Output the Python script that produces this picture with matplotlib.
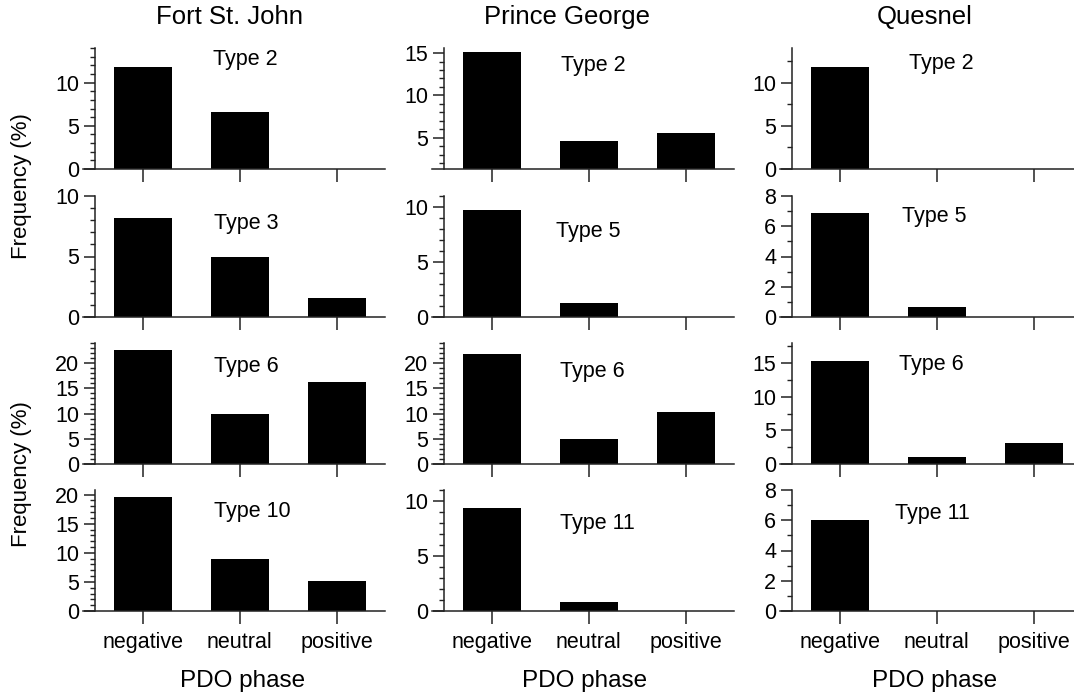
import matplotlib.pyplot as plt
from matplotlib.ticker import MultipleLocator

plt.rcParams['font.family'] = ['Liberation Sans', 'DejaVu Sans']

# Data
stations = ["Fort St. John", "Prince George", "Quesnel"]
phases = ["negative", "neutral", "positive"]

fsj_types = ["Type 2", "Type 3", "Type 6", "Type 10"]
fsj_values = [[11.8, 6.6, 0.0],
              [8.2, 5.0, 1.55],
              [22.6, 10.0, 16.2],
              [19.6, 9.0, 5.2]]

pg_types = ["Type 2", "Type 5", "Type 6", "Type 11"]
pg_values = [[15.1, 4.6, 5.5],
             [9.7, 1.25, 0.0],
             [21.8, 5.0, 10.4],
             [9.4, 0.8, 0.0]]

q_types = ["Type 2", "Type 5", "Type 6", "Type 11"]
q_values = [[11.8, 0.0, 0.0],
            [6.85, 0.65, 0.0],
            [15.3, 1.05, 3.1],
            [6.0, 0.0, 0.0]]

# axis settings per column: (ymin, ymax, major, minor)
fsj_axes = [(0, 14, 5, 1), (0, 10, 5, 1), (0, 24, 5, 1), (0, 20.8, 5, 1)]
pg_axes = [(1.3, 15.6, 5, 1), (0, 11, 5, 1), (0, 24, 5, 1), (0, 11, 5, 1)]
q_axes = [(0, 14, 5, 2.5), (0, 8, 2, 1), (0, 18, 5, 2.5), (0, 8, 2, 1)]

# label positions in pixels (x, y) for the "Type" texts
fsj_lab = [(245, 59), (246, 223), (246, 367), (252, 512)]
pg_lab = [(593, 65), (588, 232), (592, 371), (597, 523)]
q_lab = [(941, 63), (934, 217), (931, 365), (932, 513)]

columns = [
    (fsj_types, fsj_values, fsj_axes, fsj_lab),
    (pg_types, pg_values, pg_axes, pg_lab),
    (q_types, q_values, q_axes, q_lab),
]

W, H = 1074, 698
fig = plt.figure(figsize=(W / 100, H / 100), dpi=100)

col_left = [83, 432, 780]
row_top = [48, 196, 343, 490]
ax_w, ax_h = 302, 121

x = [0, 1, 2]
for c, (types, values, axset, labs) in enumerate(columns):
    for r in range(4):
        ax = fig.add_axes([col_left[c] / W, 1 - (row_top[r] + ax_h) / H,
                           ax_w / W, ax_h / H])
        ax.bar(x, values[r], width=0.6, color='black')
        ymin, ymax, maj, mnr = axset[r]
        ax.set_ylim(ymin, ymax)
        ax.set_xlim(-0.62, 2.5)
        ax.yaxis.set_major_locator(MultipleLocator(maj))
        ax.yaxis.set_minor_locator(MultipleLocator(mnr))
        ax.spines['top'].set_visible(False)
        ax.spines['right'].set_visible(False)
        ax.spines['left'].set_position(('data', -0.5))
        for s in ['left', 'bottom']:
            ax.spines[s].set_linewidth(1.1)
            ax.spines[s].set_color('#222222')
        ax.set_xticks(x)
        ax.tick_params(axis='both', which='major', length=8, width=1.1,
                       color='#222222', labelsize=15.5, pad=3)
        ax.tick_params(axis='y', which='minor', length=3.5, width=1.0,
                       color='#222222')
        ax.tick_params(axis='x', which='major', length=9, pad=6)
        if r == 3:
            ax.set_xticklabels(phases)
        else:
            ax.set_xticklabels([])
        lx, ly = labs[r]
        fig.text(lx / W, 1 - ly / H, types[r], ha='center', va='center',
                 fontsize=15.5)

# column titles
title_x = [230, 567, 925]
for c, name in enumerate(stations):
    fig.text(title_x[c] / W, 1 - 17 / H, name, ha='center', va='center',
             fontsize=18.5)

# x axis labels
pdo_x = [243, 585, 935]
for c in range(3):
    fig.text(pdo_x[c] / W, 1 - 681 / H, "PDO phase", ha='center',
             va='center', fontsize=17.5)

# y axis labels
for yc in [186, 474]:
    fig.text(22 / W, 1 - yc / H, "Frequency (%)", ha='center', va='center',
             rotation=90, fontsize=16)

plt.savefig("out.png", dpi=100)
